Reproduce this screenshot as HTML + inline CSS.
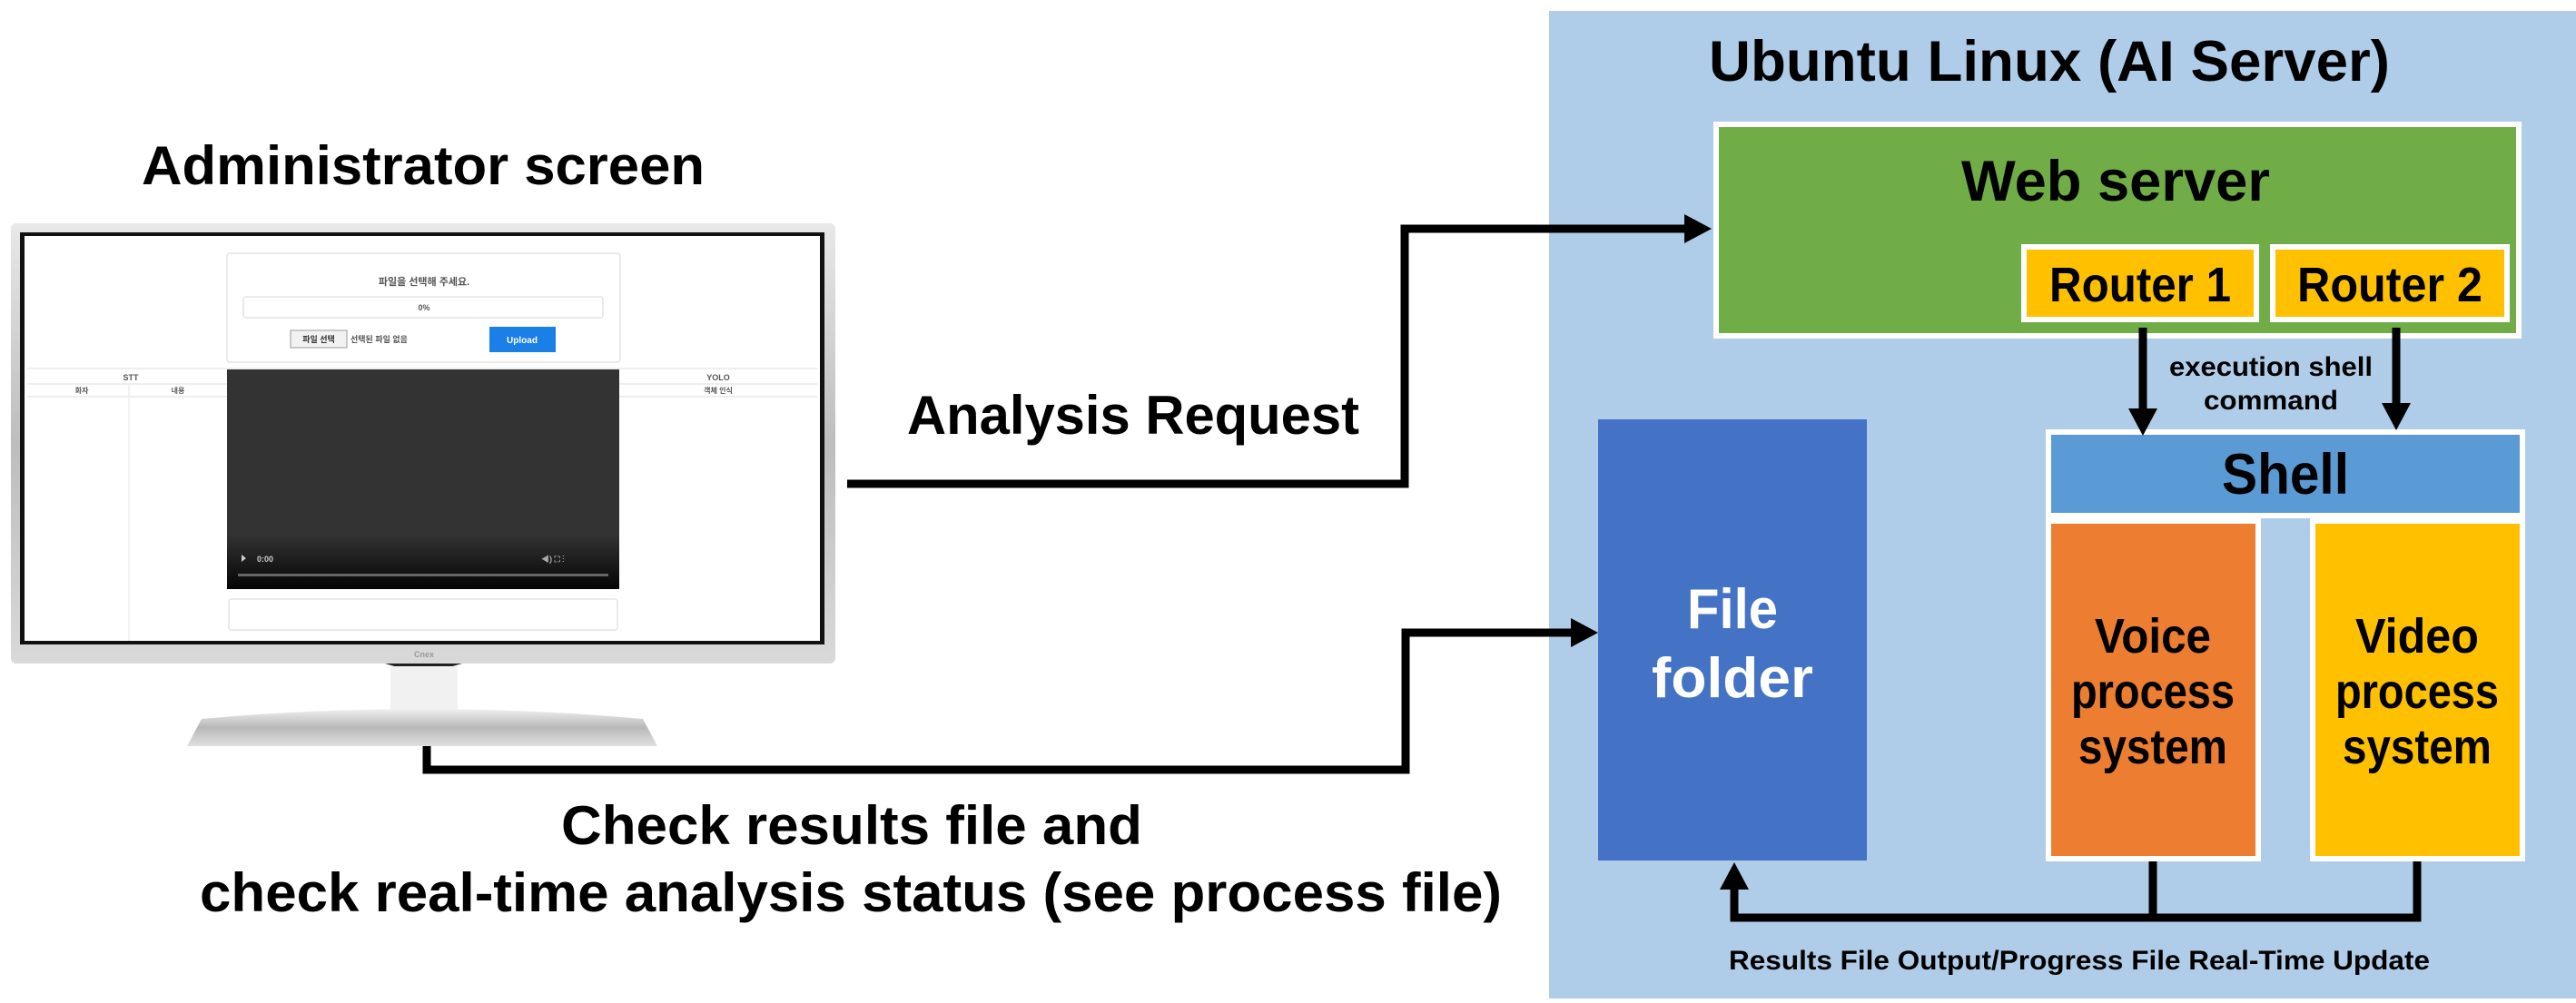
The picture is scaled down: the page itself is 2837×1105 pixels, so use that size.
<!DOCTYPE html>
<html><head><meta charset="utf-8"><style>
html,body{margin:0;padding:0;background:#fff;}
svg{display:block;}
text{font-family:"Liberation Sans","Noto Sans CJK KR",sans-serif;font-weight:bold;}
</style></head><body>
<svg width="2837" height="1105" viewBox="0 0 2837 1105" xmlns="http://www.w3.org/2000/svg">
<defs>
<linearGradient id="silv" x1="0" y1="0" x2="0" y2="1">
<stop offset="0" stop-color="#e8e8e8"/><stop offset="0.5" stop-color="#bdbdbd"/><stop offset="1" stop-color="#d9d9d9"/></linearGradient>
<linearGradient id="base" x1="0" y1="0" x2="0" y2="1">
<stop offset="0" stop-color="#f0f0f0"/><stop offset="0.5" stop-color="#b8b8b8"/><stop offset="1" stop-color="#e0e0e0"/></linearGradient>
<linearGradient id="vid" x1="0" y1="0" x2="0" y2="1">
<stop offset="0" stop-color="#333"/><stop offset="0.75" stop-color="#333"/><stop offset="1" stop-color="#050505"/></linearGradient>
</defs>
<rect width="2837" height="1105" fill="#fff"/>

<!-- Monitor -->
<rect x="12" y="246" width="908" height="485" rx="6" fill="url(#silv)"/>
<rect x="22" y="256" width="886" height="454" fill="#111"/>
<rect x="27" y="260" width="876" height="446" fill="#fff"/>
<rect x="250" y="279" width="433" height="120" rx="3" fill="#fff" stroke="#e4e4e4" stroke-width="1.5"/>
<text x="467" y="314" font-size="11" text-anchor="middle" fill="#555" font-weight="normal">파일을 선택해 주세요.</text>
<rect x="268" y="327" width="396" height="23" rx="3" fill="#fff" stroke="#e4e4e4" stroke-width="1.5"/>
<text x="467" y="342" font-size="9" text-anchor="middle" fill="#555" font-weight="normal">0%</text>
<rect x="320" y="364" width="62" height="19" fill="#f2f2f2" stroke="#999" stroke-width="1"/>
<text x="351" y="377" font-size="9" text-anchor="middle" fill="#333" font-weight="normal">파일 선택</text>
<text x="386" y="377" font-size="9" fill="#555" font-weight="normal">선택된 파일 없음</text>
<rect x="539" y="360" width="73" height="28" fill="#1a7fe6"/>
<text x="575" y="378" font-size="10" text-anchor="middle" fill="#fff" font-weight="normal">Upload</text>
<line x1="30" y1="406" x2="900" y2="406" stroke="#e8e8e8" stroke-width="1.5"/>
<line x1="30" y1="423" x2="900" y2="423" stroke="#e8e8e8" stroke-width="1.5"/>
<line x1="30" y1="437" x2="900" y2="437" stroke="#e8e8e8" stroke-width="1.5"/>
<line x1="142" y1="423" x2="142" y2="706" stroke="#eee" stroke-width="1.5"/>
<text x="144" y="419" font-size="9" text-anchor="middle" fill="#555" font-weight="normal">STT</text>
<text x="90" y="433" font-size="8" text-anchor="middle" fill="#555" font-weight="normal">화자</text>
<text x="196" y="433" font-size="8" text-anchor="middle" fill="#555" font-weight="normal">내용</text>
<text x="791" y="419" font-size="9" text-anchor="middle" fill="#555" font-weight="normal">YOLO</text>
<text x="791" y="433" font-size="8" text-anchor="middle" fill="#555" font-weight="normal">객체 인식</text>
<rect x="250" y="407" width="432" height="242" fill="url(#vid)"/>
<polygon points="266,611 266,619 271,615" fill="#ccc"/>
<text x="283" y="619" font-size="9" fill="#ccc" font-weight="normal">0:00</text>
<rect x="262" y="632" width="408" height="3" fill="#666"/>
<text x="596" y="619" font-size="9" fill="#aaa" font-weight="normal">◀)  ⛶  ⋮</text>
<rect x="252" y="660" width="428" height="34" rx="3" fill="#fff" stroke="#e4e4e4" stroke-width="1.5"/>
<text x="467" y="724" font-size="9" text-anchor="middle" fill="#999" font-weight="normal">Cnex</text>
<path d="M424,731 Q466,745 509,731 Z" fill="#222"/>
<rect x="430" y="734" width="74" height="54" fill="#f1f1f1"/>
<path d="M206,822 L222,792 Q466,770 708,792 L724,822 Z" fill="url(#base)"/>

<!-- Left texts -->
<text x="466" y="203" font-size="60" text-anchor="middle" textLength="620" lengthAdjust="spacingAndGlyphs">Administrator screen</text>
<text x="1248" y="478" font-size="60" text-anchor="middle" textLength="498" lengthAdjust="spacingAndGlyphs">Analysis Request</text>
<text x="938" y="930" font-size="60" text-anchor="middle" textLength="640" lengthAdjust="spacingAndGlyphs">Check results file and</text>
<text x="937" y="1004" font-size="60" text-anchor="middle" textLength="1434" lengthAdjust="spacingAndGlyphs">check real-time analysis status (see process file)</text>

<!-- Server panel -->
<rect x="1706" y="12" width="1131" height="1088" fill="#afcde9"/>
<text x="2257" y="89" font-size="63" text-anchor="middle" textLength="750" lengthAdjust="spacingAndGlyphs">Ubuntu Linux (AI Server)</text>

<rect x="1887" y="134" width="890" height="239" fill="#fff"/>
<rect x="1893" y="140" width="878" height="227" fill="#70ad47"/>
<text x="2330" y="221" font-size="63" text-anchor="middle" textLength="340" lengthAdjust="spacingAndGlyphs">Web server</text>
<rect x="2226" y="269" width="262" height="86" fill="#fff"/>
<rect x="2232" y="275" width="250" height="74" fill="#ffc000"/>
<text x="2357" y="332" font-size="54" text-anchor="middle" textLength="200" lengthAdjust="spacingAndGlyphs">Router 1</text>
<rect x="2500" y="269" width="264" height="86" fill="#fff"/>
<rect x="2506" y="275" width="252" height="74" fill="#ffc000"/>
<text x="2632" y="332" font-size="54" text-anchor="middle" textLength="204" lengthAdjust="spacingAndGlyphs">Router 2</text>

<text x="2501" y="414" font-size="30" text-anchor="middle" textLength="224" lengthAdjust="spacingAndGlyphs">execution shell</text>
<text x="2501" y="451" font-size="30" text-anchor="middle" textLength="148" lengthAdjust="spacingAndGlyphs">command</text>

<rect x="1760" y="462" width="296" height="486" fill="#4472c4"/>
<text x="1908" y="692" font-size="62" text-anchor="middle" fill="#fff" textLength="100" lengthAdjust="spacingAndGlyphs">File</text>
<text x="1908" y="768" font-size="62" text-anchor="middle" fill="#fff" textLength="178" lengthAdjust="spacingAndGlyphs">folder</text>

<rect x="2253" y="473" width="528" height="98" fill="#fff"/>
<rect x="2259" y="479" width="516" height="86" fill="#5b9bd5"/>
<text x="2517" y="544" font-size="63" text-anchor="middle" textLength="140" lengthAdjust="spacingAndGlyphs">Shell</text>
<rect x="2253" y="571" width="237" height="378" fill="#fff"/>
<rect x="2259" y="577" width="225" height="366" fill="#ed7d31"/>
<rect x="2544" y="571" width="237" height="378" fill="#fff"/>
<rect x="2550" y="577" width="225" height="366" fill="#ffc000"/>
<g font-size="54" text-anchor="middle">
<text x="2371" y="719" textLength="128" lengthAdjust="spacingAndGlyphs">Voice</text>
<text x="2371" y="780" textLength="180" lengthAdjust="spacingAndGlyphs">process</text>
<text x="2371" y="841" textLength="164" lengthAdjust="spacingAndGlyphs">system</text>
<text x="2662" y="719" textLength="136" lengthAdjust="spacingAndGlyphs">Video</text>
<text x="2662" y="780" textLength="180" lengthAdjust="spacingAndGlyphs">process</text>
<text x="2662" y="841" textLength="164" lengthAdjust="spacingAndGlyphs">system</text>
</g>
<text x="2290" y="1068" font-size="30" text-anchor="middle" textLength="772" lengthAdjust="spacingAndGlyphs">Results File Output/Progress File Real-Time Update</text>

<!-- Connectors -->
<g stroke="#000" stroke-width="9" fill="none" stroke-linejoin="miter">
<polyline points="933,533 1547,533 1547,252 1855,252"/>
<polyline points="470,822 470,848 1548,848 1548,697 1734,697"/>
<line x1="2360" y1="361" x2="2360" y2="452"/>
<line x1="2639" y1="361" x2="2639" y2="446"/>
<polyline points="2371,949 2371,1011 1910,1011 1910,978"/>
<polyline points="2662,949 2662,1011 2371,1011"/>
</g>
<g fill="#000">
<polygon points="1885,252 1855,236 1855,268"/>
<polygon points="1760,697 1730,681 1730,713"/>
<polygon points="2360,480 2344,450 2376,450"/>
<polygon points="2639,474 2623,444 2655,444"/>
<polygon points="1910,950 1894,980 1926,980"/>
</g>
</svg>
</body></html>
